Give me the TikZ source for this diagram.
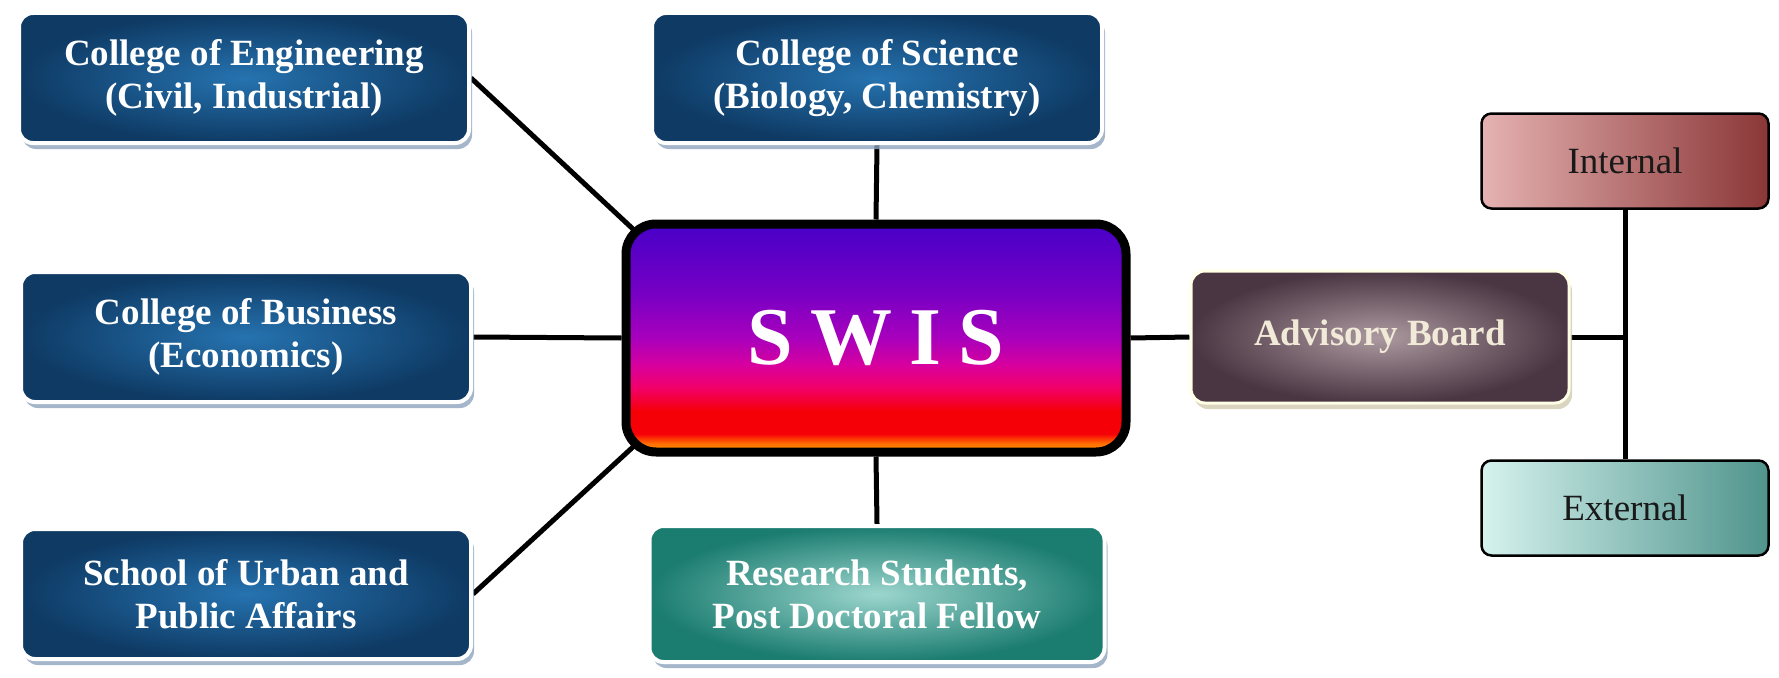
\documentclass[tikz,border=0pt]{standalone}
\usepackage{fontspec}
\setmainfont{Liberation Serif}
\usetikzlibrary{shadows,backgrounds,calc}

\definecolor{navyout}{HTML}{0E3A64}
\definecolor{navyin}{HTML}{2673B0}
\definecolor{tealout}{HTML}{1B7C70}
\definecolor{tealin}{HTML}{9CD6CE}
\definecolor{advout}{HTML}{4A3542}
\definecolor{advin}{HTML}{AC9AA0}
\definecolor{advtext}{HTML}{F2EAD8}
\definecolor{intL}{HTML}{E6B2B2}
\definecolor{intR}{HTML}{8A3636}
\definecolor{extL}{HTML}{D6F2EE}
\definecolor{extR}{HTML}{4F948C}
\definecolor{shadowblue}{HTML}{8EA4BE}
\definecolor{shadowcream}{HTML}{CFCAAE}
\definecolor{swA}{HTML}{4800C8}
\definecolor{swB}{HTML}{7600C4}
\definecolor{swC}{HTML}{A800BC}
\definecolor{swD}{HTML}{D8009E}
\definecolor{swE}{HTML}{F20068}
\definecolor{swF}{HTML}{F60008}
\definecolor{swG}{HTML}{FF6A00}
\definecolor{swH}{HTML}{FFA000}

\pgfdeclareverticalshading{swisshade}{100bp}{%
  color(0bp)=(swH); color(25bp)=(swH); color(27bp)=(swG); color(29bp)=(swF);
  color(34bp)=(swF); color(39bp)=(swE); color(44bp)=(swD); color(50bp)=(swC);
  color(60bp)=(swB); color(75bp)=(swA); color(100bp)=(swA)}

\newcommand\boxfont{\fontsize{37}{43}\selectfont\bfseries}
\newcommand\plainfont{\fontsize{37}{43}\selectfont}

\tikzset{
  conn/.style={line width=5pt, black},
  bluebox/.style={rounded corners=14pt, draw=white, line width=4pt,
    inner color=navyin, outer color=navyout, text=white, font=\boxfont,
    align=center, minimum width=450pt, minimum height=130pt,
    drop shadow={shadow xshift=3pt, shadow yshift=-6pt, fill=shadowblue, opacity=0.8}},
  tealbox/.style={bluebox, inner color=tealin, outer color=tealout},
  advbox/.style={rounded corners=14pt, draw=white!90!yellow, line width=3pt,
    inner color=advin, outer color=advout, text=advtext, font=\boxfont,
    align=center, minimum width=378pt, minimum height=132pt,
    drop shadow={shadow xshift=3pt, shadow yshift=-6pt, fill=shadowcream, opacity=0.8}},
  sidebox/.style={rounded corners=10pt, draw=black, line width=2.5pt,
    text=black!90, font=\plainfont, align=center,
    minimum width=287pt, minimum height=95pt},
  swisbox/.style={rounded corners=30pt, draw=black, line width=9pt,
    shading=swisshade, text=white, align=center,
    minimum width=500pt, minimum height=228pt,
    font=\fontsize{82}{90}\selectfont\bfseries},
}

\begin{document}
\begin{tikzpicture}[x=1pt,y=-1pt]
\useasboundingbox (0,0) rectangle (1779,677);

\node[bluebox] (eng) at (244,78) {College of Engineering\\(Civil, Industrial)};
\node[bluebox] (sci) at (877,78) {College of Science\\(Biology, Chemistry)};
\node[bluebox] (bus) at (246,337) {College of Business\\(Economics)};
\node[bluebox] (urb) at (246,594) {School of Urban and\\Public Affairs};
\node[tealbox, minimum width=455pt, minimum height=136pt] (res) at (877,594) {Research Students,\\Post Doctoral Fellow};
\node[swisbox] (swis) at (876,338) {S\kern17pt W\kern17pt I\kern17pt S};
\node[advbox] (adv) at (1380,337) {Advisory Board};
\node[sidebox, left color=intL, right color=intR] (int) at (1625,161) {Internal};
\node[sidebox, left color=extL, right color=extR] (ext) at (1625,508) {External};
\coordinate (junc) at (int.south |- adv.east);
\coordinate (nwc) at ($(swis.north west)+(12,10)$);
\coordinate (swc) at ($(swis.south west)+(12,-10)$);

\begin{scope}[on background layer]
\draw[conn] (eng.east) -- (nwc);
\draw[conn] (urb.east) -- (swc);
\draw[conn] (bus.east) -- (swis.west);
\draw[conn] (sci.south) -- (swis.north);
\draw[conn] (swis.south) -- (res.north);
\draw[conn] (swis.east) -- (adv.west);
\draw[conn] (adv.east) -- (junc);
\draw[conn] (int.south) -- (ext.north);
\end{scope}
\end{tikzpicture}
\end{document}
